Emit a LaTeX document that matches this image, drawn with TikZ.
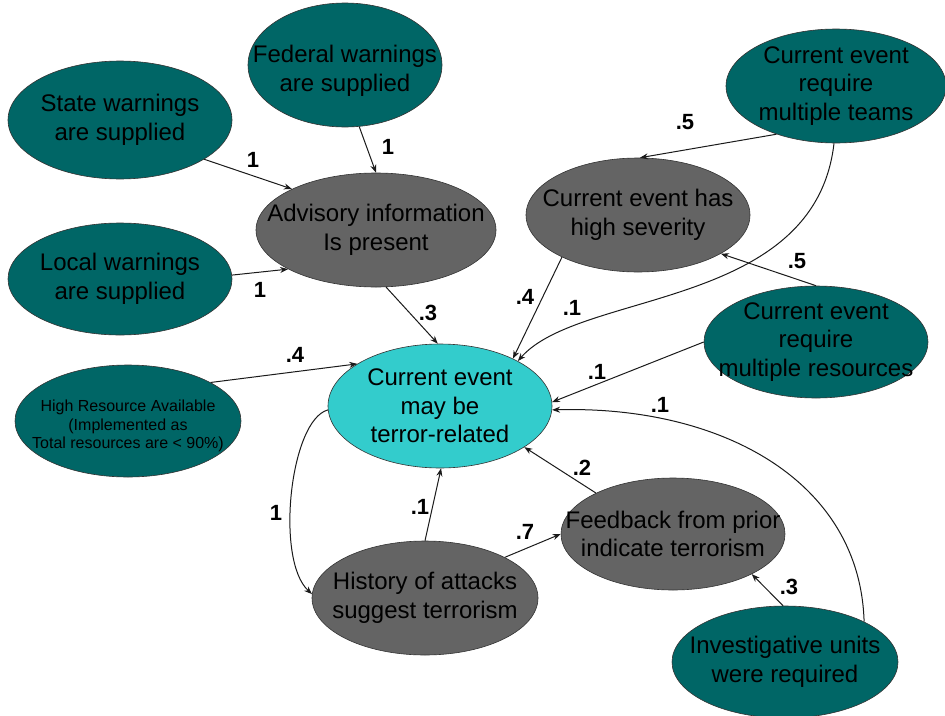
\documentclass[tikz,border=0pt]{standalone}
\usepackage{fontspec}
\setmainfont{Liberation Sans}
\usetikzlibrary{shapes.geometric,arrows.meta}

\definecolor{tealnode}{HTML}{006666}
\definecolor{graynode}{HTML}{646464}
\definecolor{cyannode}{HTML}{33CCCC}
\definecolor{edgeink}{HTML}{1A1A1A}

\tikzset{
  bubble/.style={ellipse, draw=black!80, line width=0.6pt, inner sep=0pt},
  given/.style={bubble, fill=tealnode},
  derived/.style={bubble, fill=graynode},
  goal/.style={bubble, fill=cyannode},
  caption/.style={align=center, text=black, inner sep=0pt,
    font=\fontsize{24}{28.5}\selectfont},
  smallcaption/.style={caption, font=\fontsize{16}{18.5}\selectfont},
  says/.style={label={[caption]center:{#1}}},
  sayslow/.style={label={[caption, yshift=-6pt]center:{#1}}},
  sayssmall/.style={label={[smallcaption, yshift=-5pt]center:{#1}}},
  link/.style={draw=edgeink, line width=1pt,
    -{Stealth[length=8pt,width=6pt]}},
  weight/.style={font=\fontsize{22}{22}\selectfont\bfseries, text=black}
}

\begin{document}
\begin{tikzpicture}[x=1pt,y=-1pt]
\path[use as bounding box] (0,0) rectangle (945,715);

% evidence and intermediate nodes (sizes fixed, text placed at the centre)
\node[given, minimum width=194pt, minimum height=124pt, sayslow={Federal warnings\\are supplied}] (federal) at (345,65) {};
\node[given, minimum width=224pt, minimum height=118pt, says={State warnings\\are supplied}] (state) at (120,120) {};
\node[derived, minimum width=240pt, minimum height=114pt, says={Advisory information\\Is present}] (advisory) at (376,230) {};
\node[given, minimum width=224pt, minimum height=112pt, says={Local warnings\\are supplied}] (local) at (120,279) {};
\node[given, minimum width=226pt, minimum height=112pt, sayssmall={High Resource Available\\(Implemented as\\Total resources are < 90\%)}] (highres) at (128,421) {};
\node[goal, minimum width=224pt, minimum height=124pt, says={Current event\\may be\\terror-related}] (terror) at (440,406) {};
\node[derived, minimum width=224pt, minimum height=114pt, says={Current event has\\high severity}] (severity) at (638,215) {};
\node[given, minimum width=220pt, minimum height=114pt, says={Current event\\require\\multiple teams}] (teams) at (836,86) {};
\node[given, minimum width=224pt, minimum height=112pt, says={Current event\\require\\multiple resources}] (resources) at (816,342) {};
\node[derived, minimum width=226pt, minimum height=114pt, says={History of attacks\\suggest terrorism}] (history) at (425,598) {};
\node[derived, minimum width=224pt, minimum height=112pt, says={Feedback from prior\\indicate terrorism}] (feedback) at (673,534) {};
\node[given, minimum width=226pt, minimum height=112pt, says={Investigative units\\were required}] (invest) at (785,662) {};

% warnings feed the advisory node
\draw[link] (state.335) -- (advisory.154);
\draw[link] (federal.283) -- (advisory.90);
\draw[link] (local.2) -- (advisory.204);

% influences on the terror-related node
\draw[link] (advisory.280) -- (terror.92);
\draw[link] (highres.25) -- (terror.153);
\draw[link] (severity.209) -- (terror.33);
\draw[link] (teams.268) .. controls (815,310) and (580,290) .. (terror.30);
\draw[link] (resources.180) -- (terror.2);
\draw[link] (invest.27) .. controls (860,480) and (720,405) .. (terror.358);
\draw[link] (feedback.152) -- (terror.334);
\draw[link] (history.90) -- (terror.271);

% remaining links
\draw[link] (teams.219) -- (severity.88);
\draw[link] (resources.90) -- (severity.335);
\draw[link] (history.27) -- (feedback.180);
\draw[link] (invest.92) -- (feedback.333);
\draw[link] (terror.182) .. controls (290,420) and (275,560) .. (history.178);

% link weights
\node[weight] (w1) at (253,160) {1};
\node[weight] (w2) at (388,147) {1};
\node[weight] (w3) at (260,290) {1};
\node[weight] (w4) at (428,313) {.3};
\node[weight] (w5) at (295,355) {.4};
\node[weight] (w6) at (525,297) {.4};
\node[weight] (w7) at (572,308) {.1};
\node[weight] (w8) at (685,122) {.5};
\node[weight] (w9) at (797,261) {.5};
\node[weight] (w10) at (597,372) {.1};
\node[weight] (w11) at (660,405) {.1};
\node[weight] (w12) at (582,468) {.2};
\node[weight] (w13) at (789,587) {.3};
\node[weight] (w14) at (420,507) {.1};
\node[weight] (w15) at (525,532) {.7};
\node[weight] (w16) at (276,513) {1};
\end{tikzpicture}
\end{document}
